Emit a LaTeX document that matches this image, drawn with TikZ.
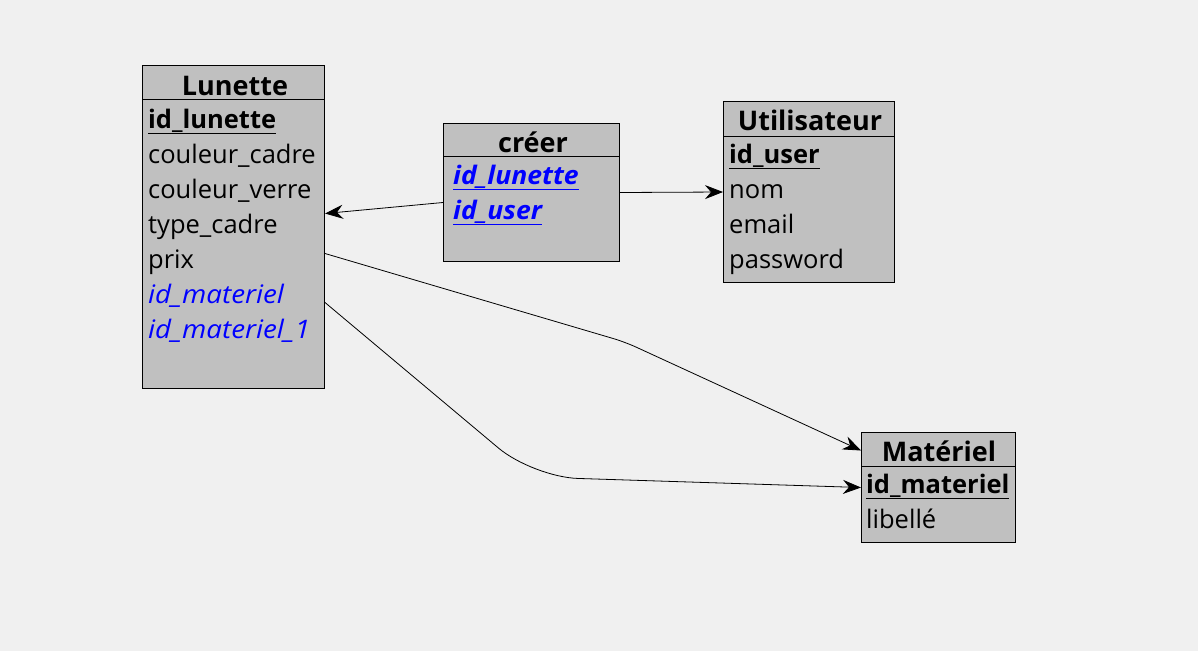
\documentclass[tikz,border=0pt]{standalone}
\usepackage{fontspec}
\setmainfont{Open Sans}
\usepackage{tikz}
\usetikzlibrary{positioning, arrows.meta}
\definecolor{bgcol}{RGB}{240,240,240}
\definecolor{boxcol}{RGB}{192,192,192}
\definecolor{fkblue}{RGB}{0,0,255}

\begin{document}
\begin{tikzpicture}[x=1pt,y=-1pt,
        table/.style={rectangle,draw=black,fill=boxcol,line width=1pt,inner sep=0pt,anchor=north west},
        head/.style={table,fill=none},
        title/.style={anchor=base,inner sep=0pt,font=\fontsize{27}{30}\selectfont\bfseries},
        attr/.style={anchor=base west,inner sep=0pt,font=\fontsize{25.5}{30}\selectfont},
        pkey/.style={attr,font=\fontsize{25.5}{30}\selectfont\bfseries},
        fkey/.style={attr,text=fkblue,font=\fontsize{25.5}{30}\selectfont\itshape\addfontfeature{FakeStretch=1.09}},
        pfkey/.style={attr,text=fkblue,font=\fontsize{25.5}{30}\selectfont\bfseries\itshape\addfontfeature{FakeStretch=1.04}},
        link/.style={-{Stealth[length=18pt,width=14pt,inset=6pt]},line width=0.8pt}]

        \fill[bgcol] (0,0) rectangle (1198,651);
        \useasboundingbox (0,0) rectangle (1198,651);

        % Lunette
        \node[table,minimum width=182pt,minimum height=323pt] (L) at (142,65) {};
        \node[head,minimum width=182pt,minimum height=34pt] (LH) at (142,65) {};
        \node[title] (LT) at (235,95) {Lunette};
        \node[pkey] (L1) at (148,128) {\underline{id\_lunette}};
        \node[attr] (L2) at (148,163) {couleur\_cadre};
        \node[attr] (L3) at (148,198) {couleur\_verre};
        \node[attr] (L4) at (148,233) {type\_cadre};
        \node[attr] (L5) at (148,268) {prix};
        \node[fkey] (L6) at (148,303) {id\_materiel};
        \node[fkey] (L7) at (148,338) {id\_materiel\_1};

        % creer
        \node[table,minimum width=176pt,minimum height=138pt] (C) at (443,123) {};
        \node[head,minimum width=176pt,minimum height=33pt] (CH) at (443,123) {};
        \node[title] (CT) at (533,152) {créer};
        \node[pfkey] (C1) at (453,184) {\underline{id\_lunette}};
        \node[pfkey] (C2) at (453,219) {\underline{id\_user}};

        % Utilisateur
        \node[table,minimum width=171pt,minimum height=181pt] (U) at (723,101) {};
        \node[head,minimum width=171pt,minimum height=35pt] (UH) at (723,101) {};
        \node[title] (UT) at (810,130) {Utilisateur};
        \node[pkey] (U1) at (729,163) {\underline{id\_user}};
        \node[attr] (U2) at (729,198) {nom};
        \node[attr] (U3) at (729,233) {email};
        \node[attr] (U4) at (729,268) {password};

        % Materiel
        \node[table,minimum width=154pt,minimum height=110pt] (M) at (861,432) {};
        \node[head,minimum width=154pt,minimum height=34pt] (MH) at (861,432) {};
        \node[title] (MT) at (939,461) {Matériel};
        \node[pkey] (M1) at (866,493) {\underline{id\_materiel}};
        \node[attr] (M2) at (866,528) {libellé};

        \coordinate (k1) at (625,342);
        \coordinate (k2) at (533,477);

        \draw[link] ([yshift=-10pt]C.west) -- ([yshift=13.5pt]L.east);
        \draw[link] (C.east) -- (U.west);
        \draw[link,rounded corners=12pt] ([yshift=-26.5pt]L.east) -- (k1) -- ([yshift=37pt]M.west);
        \draw[link,rounded corners=45pt] ([yshift=-75.5pt]L.east) -- (k2) -- (M.west);
\end{tikzpicture}
\end{document}
